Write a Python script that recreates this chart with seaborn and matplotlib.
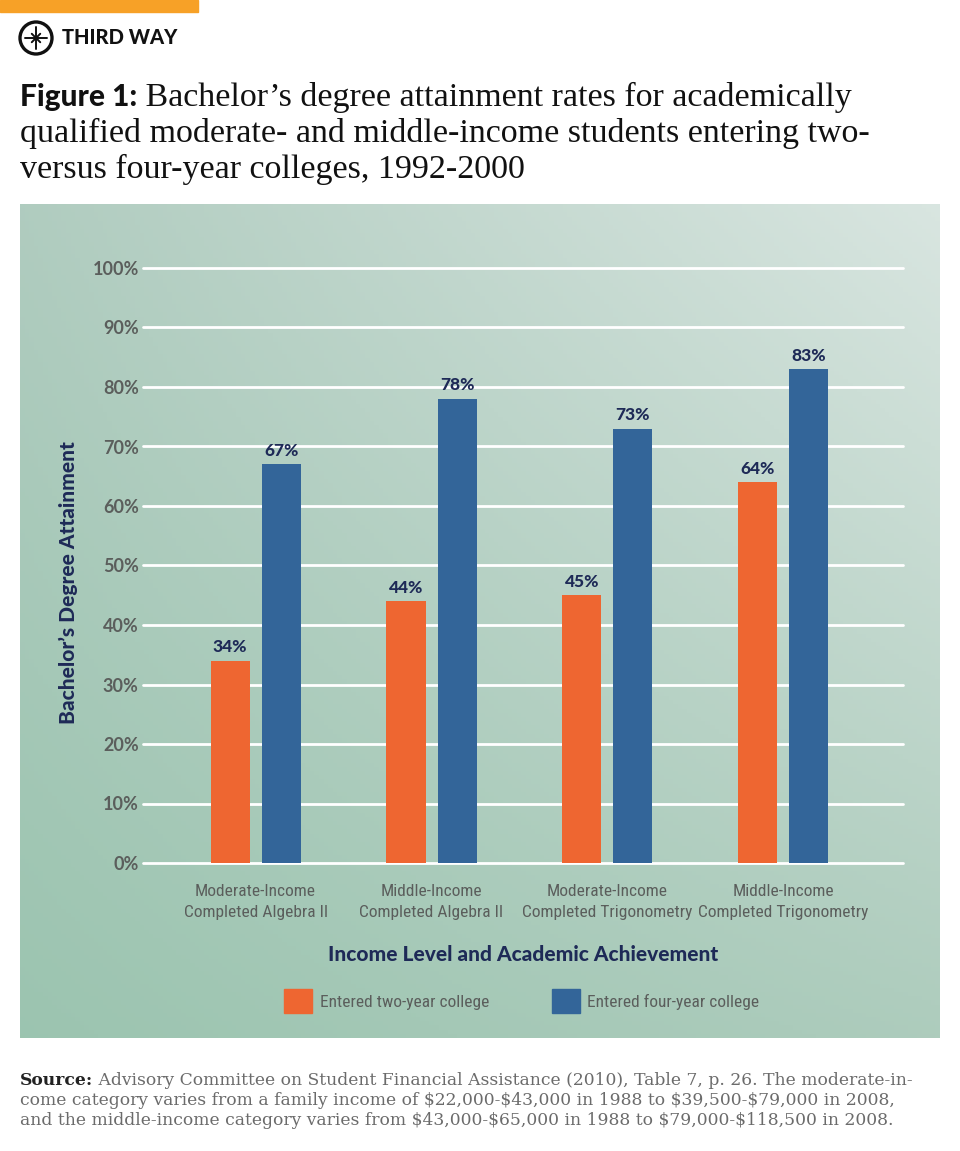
import numpy as np
import pandas as pd
import matplotlib.pyplot as plt
import matplotlib.patches as mpatches
from matplotlib import font_manager
import seaborn as sns

# -------------------------------
# Data
# -------------------------------
categories = [
    "Moderate-Income\nCompleted Algebra II",
    "Middle-Income\nCompleted Algebra II",
    "Moderate-Income\nCompleted Trigonometry",
    "Middle-Income\nCompleted Trigonometry",
]
series = ["Entered two-year college", "Entered four-year college"]
two_year = [34, 44, 45, 64]
four_year = [67, 78, 73, 83]
y_ticks = [0, 10, 20, 30, 40, 50, 60, 70, 80, 90, 100]

df = pd.DataFrame({
    "group": categories * 2,
    "college": [series[0]] * 4 + [series[1]] * 4,
    "rate": two_year + four_year,
})

# -------------------------------
# Style
# -------------------------------
sns.set_style("white")
ORANGE = "#ee6631"
BLUE = "#336599"
NAVY = "#1e2a57"
GREY = "#5b5e5c"

# look for a narrow / condensed face for the category labels
fonts = font_manager.fontManager.ttflist
narrow_kw = None
for f in fonts:
    if f.name in ("Liberation Sans Narrow", "Roboto Condensed", "Open Sans Condensed"):
        narrow_kw = dict(family=f.name, fontsize=12.5)
        break
if narrow_kw is None:
    for f in fonts:
        if f.name == "DejaVu Sans" and "ondensed" in str(f.stretch) and f.weight in (400, "normal"):
            narrow_kw = dict(family="DejaVu Sans", fontstretch="condensed", fontsize=11.5)
            break
if narrow_kw is None:
    narrow_kw = dict(family="Roboto", fontsize=11)

serif = "Liberation Serif"
sans = "Lato"

W, H = 960, 1151
fig = plt.figure(figsize=(W / 100, H / 100), dpi=100)
fig.patch.set_facecolor("white")


def fx(px):
    return px / W


def fy(py):
    return 1 - py / H


# orange strip at the very top
fig.patches.append(mpatches.Rectangle((0, fy(12)), fx(198), 12 / H,
                                      transform=fig.transFigure, color="#f7a127"))

# logo
cx, cy = fx(36), fy(38)
fig.patches.append(mpatches.Ellipse((cx, cy), 2 * 16 / W, 2 * 16 / H, transform=fig.transFigure,
                                    fill=False, lw=2.4, ec="#111111"))
for ang in range(0, 360, 45):
    ln = 11 if ang % 90 == 0 else 6
    a = np.deg2rad(ang)
    fig.add_artist(plt.Line2D([cx, cx + ln * np.cos(a) / W], [cy, cy + ln * np.sin(a) / H],
                              transform=fig.transFigure, color="#111111", lw=1.4))
fig.text(fx(62), fy(38), "THIRD WAY", fontsize=14.5, fontweight="black", family=sans,
         va="center", ha="left", color="#111111")

# background panel with a soft gradient
bg = fig.add_axes([fx(20), fy(1038), fx(940) - fx(20), fy(204) - fy(1038)], zorder=-5)
tl = np.array([0.69, 0.80, 0.75])
tr = np.array([0.85, 0.90, 0.88])
bl = np.array([0.61, 0.77, 0.69])
br = np.array([0.68, 0.80, 0.74])
u = np.linspace(0, 1, 200)[None, :, None]
v = np.linspace(0, 1, 200)[:, None, None]
grad = (1 - v) * ((1 - u) * tl + u * tr) + v * ((1 - u) * bl + u * br)
bg.imshow(grad, aspect="auto", extent=[0, 1, 0, 1])
bg.axis("off")

# -------------------------------
# Bar chart
# -------------------------------
ax = fig.add_axes([fx(143), fy(863), fx(903) - fx(143), fy(268) - fy(863)])
ax.patch.set_alpha(0)
sns.barplot(data=df, x="group", y="rate", hue="college", hue_order=series,
            palette=[ORANGE, BLUE], width=0.58, gap=0.235, ax=ax,
            saturation=1, legend=False, zorder=3, linewidth=0)

ax.set_ylim(0, 100)
ax.set_xlim(-0.64, 3.68)
ax.set_yticks(y_ticks)
ax.set_yticklabels([f"{t}%" for t in y_ticks])
for t in y_ticks:
    ax.axhline(t, color="white", lw=2, zorder=1, clip_on=False)
for s in ax.spines.values():
    s.set_visible(False)
ax.tick_params(axis="both", length=0)
ax.tick_params(axis="y", pad=3)
ax.tick_params(axis="x", pad=15)
for lab in ax.get_yticklabels():
    lab.set_fontfamily(sans)
    lab.set_fontweight("bold")
    lab.set_fontsize(13)
    lab.set_color(GREY)
for lab in ax.get_xticklabels():
    lab.set_fontfamily(narrow_kw["family"])
    lab.set_fontsize(narrow_kw["fontsize"])
    if "fontstretch" in narrow_kw:
        lab.set_fontstretch(narrow_kw["fontstretch"])
    lab.set_color(GREY)
    lab.set_linespacing(1.5)

for cont in ax.containers:
    ax.bar_label(cont, labels=[f"{v:.0f}%" for v in cont.datavalues], padding=4,
                 fontsize=12.5, fontweight="black", family=sans, color=NAVY)

ax.set_ylabel("Bachelor\u2019s Degree Attainment", fontsize=15, fontweight="black",
              family=sans, color=NAVY)
ax.yaxis.set_label_coords(-0.086, 0.472)
ax.set_xlabel("Income Level and Academic Achievement", fontsize=15, fontweight="black",
              family=sans, color=NAVY, labelpad=18)

handles = [mpatches.Patch(color=ORANGE), mpatches.Patch(color=BLUE)]
leg_prop = {"family": narrow_kw["family"], "size": narrow_kw["fontsize"]}
if "fontstretch" in narrow_kw:
    leg_prop["stretch"] = narrow_kw["fontstretch"]
leg = fig.legend(handles, series, loc="center", bbox_to_anchor=(fx(522), fy(1001)),
                 ncol=2, frameon=False, handlelength=1.6, handleheight=1.7,
                 handletextpad=0.45, columnspacing=3.6, prop=leg_prop)
for t in leg.get_texts():
    t.set_color(GREY)

# -------------------------------
# Title and footer with mixed fonts
# -------------------------------
fig.canvas.draw()
renderer = fig.canvas.get_renderer()


def runs(x, y, parts):
    for txt, kw in parts:
        t = fig.text(x, y, txt, va="baseline", ha="left", parse_math=False, **kw)
        bb = t.get_window_extent(renderer)
        x = x + bb.width / W


tkw = dict(family=serif, fontsize=24.5, color="#111111")
runs(fx(20), fy(106), [("Figure 1:", dict(family=sans, fontsize=21.5, fontweight="black", color="#111111")),
                        (" Bachelor\u2019s degree attainment rates for academically", tkw)])
runs(fx(20), fy(142), [("qualified moderate- and middle-income students entering two-", tkw)])
runs(fx(20), fy(178), [("versus four-year colleges, 1992-2000", tkw)])

skw = dict(family="DejaVu Serif", fontsize=12.3, color="#6b6b6b")
runs(fx(20), fy(1085), [("Source:", dict(family="DejaVu Serif", fontsize=12.3, fontweight="bold", color="#222222")),
                         (" Advisory Committee on Student Financial Assistance (2010), Table 7, p. 26. The moderate-in-", skw)])
runs(fx(20), fy(1105), [("come category varies from a family income of $22,000-$43,000 in 1988 to $39,500-$79,000 in 2008,", skw)])
runs(fx(20), fy(1125), [("and the middle-income category varies from $43,000-$65,000 in 1988 to $79,000-$118,500 in 2008.", skw)])

fig.savefig("out.png", dpi=100)
